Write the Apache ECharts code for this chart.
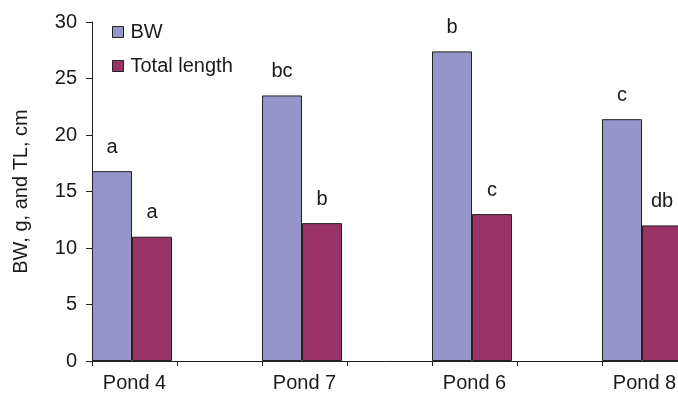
<!DOCTYPE html>
<html>
<head>
<meta charset="utf-8">
<script src="https://cdn.jsdelivr.net/npm/echarts@6/dist/echarts.min.js"></script>
<style>
  html, body { margin: 0; padding: 0; background: #fff; }
  #chart { width: 678px; height: 400px; }
</style>
</head>
<body>
<div id="chart"></div>
<script>
  // data
  var ponds = ['Pond 4', 'Pond 7', 'Pond 6', 'Pond 8']
  var bw = [16.8, 23.5, 27.4, 21.4]
  var totalLength = [11.0, 12.2, 13.0, 12.0]
  var bwLetters = ['a', 'bc', 'b', 'c']
  var tlLetters = ['a', 'b', 'c', 'db']
  var yTicks = [0, 5, 10, 15, 20, 25, 30]

  // every pond is followed by an empty slot, like the original axis
  var axisData = []
  var bwData = []
  var tlData = []
  var padData = []
  ponds.forEach(function (p, i) {
    axisData.push(p)
    bwData.push({ value: bw[i], label: { formatter: bwLetters[i] } })
    tlData.push({ value: totalLength[i], label: { formatter: tlLetters[i] } })
    padData.push(0)
    if (i < ponds.length - 1) {
      axisData.push('')
      bwData.push('-')
      tlData.push('-')
      padData.push('-')
    }
  })

  var chart = echarts.init(document.getElementById('chart'))
  var font = 'Liberation Sans, Arial, sans-serif'
  var ink = '#1a1a1a'

  var barLabel = {
    show: true,
    position: 'top',
    distance: 14,
    color: ink,
    fontSize: 20,
    fontFamily: font
  }

  var options = {
    animation: false,
    color: ['#9595c9', '#993366'],
    grid: {
      left: 92,
      top: 22,
      bottom: 39,
      right: -9,
      outerBoundsMode: 'none',
      containLabel: false
    },
    legend: {
      orient: 'vertical',
      left: 107,
      top: 17,
      itemWidth: 11,
      itemHeight: 11,
      itemGap: 14,
      icon: 'rect',
      textStyle: { fontSize: 20, color: ink, fontFamily: font, padding: [0, 0, 0, 2] },
      data: [
        { name: 'BW', itemStyle: { borderColor: '#222', borderWidth: 1 } },
        { name: 'Total length', itemStyle: { borderColor: '#222', borderWidth: 1 } }
      ]
    },
    xAxis: {
      type: 'category',
      data: axisData,
      axisLine: { lineStyle: { color: '#222', width: 1 } },
      axisTick: { show: true, length: 5, interval: 0, lineStyle: { color: '#222' } },
      axisLabel: {
        interval: 0,
        margin: 12,
        fontSize: 20,
        color: ink,
        fontFamily: font
      },
      splitLine: { show: false }
    },
    yAxis: {
      type: 'value',
      min: yTicks[0],
      max: yTicks[yTicks.length - 1],
      interval: 5,
      name: 'BW, g, and TL, cm',
      nameLocation: 'middle',
      nameGap: 61,
      nameTextStyle: { fontSize: 20, color: ink, fontFamily: font },
      axisLine: { show: true, lineStyle: { color: '#222', width: 1 } },
      axisTick: { show: true, length: 6, lineStyle: { color: '#222' } },
      axisLabel: { margin: 15, fontSize: 20, color: ink, fontFamily: font },
      splitLine: { show: false }
    },
    series: [
      {
        name: 'BW',
        type: 'bar',
        data: bwData,
        barWidth: 40,
        barGap: '0%',
        itemStyle: { borderColor: '#222', borderWidth: 1 },
        label: barLabel
      },
      {
        name: 'Total length',
        type: 'bar',
        data: tlData,
        barWidth: 40,
        itemStyle: { borderColor: '#222', borderWidth: 1 },
        label: barLabel
      },
      {
        // empty spacer so each pair sits at the left of its slot
        name: 'pad',
        type: 'bar',
        data: padData,
        barWidth: 5,
        silent: true,
        itemStyle: { color: 'rgba(0,0,0,0)' },
        label: { show: false }
      }
    ]
  }

  chart.setOption(options, true)
</script>
</body>
</html>
